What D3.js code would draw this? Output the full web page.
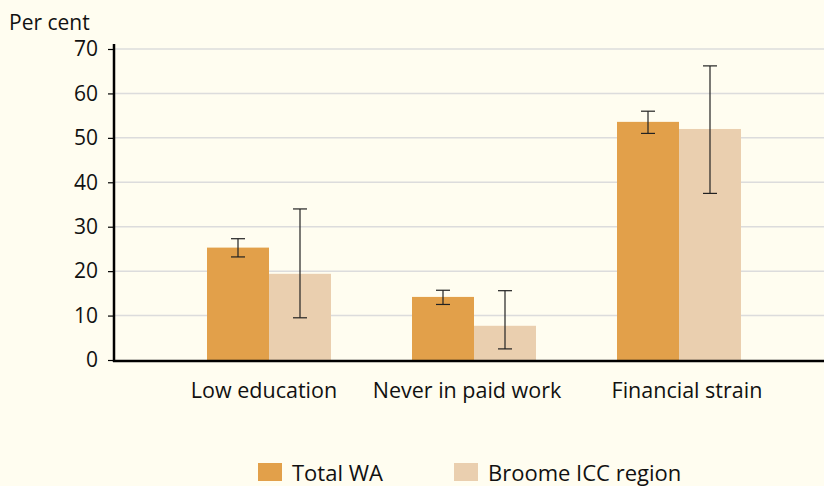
<!DOCTYPE html>
<html>
<head>
<meta charset="utf-8">
<script src="https://cdn.jsdelivr.net/npm/d3@7"></script>
<style>
  body { margin: 0; background: #fffdf0; }
  svg { display: block; font-family: "Open Sans", sans-serif; }
</style>
</head>
<body>
<div class="chart-div"></div>
<script>
const categories = ["Low education", "Never in paid work", "Financial strain"];
const seriesNames = ["Total WA", "Broome ICC region"];
const totalWA = [25.3, 14.2, 53.6];
const totalWALow = [23.2, 12.5, 51.0];
const totalWAHigh = [27.3, 15.7, 56.0];
const broome = [19.4, 7.7, 52.0];
const broomeLow = [9.5, 2.5, 37.5];
const broomeHigh = [34.0, 15.6, 66.2];
const yTicks = [0, 10, 20, 30, 40, 50, 60, 70];
const colors = ["#e2a04a", "#eacfaf"];

const w = 824;
const h = 486;

const svg = d3.select(".chart-div")
              .append("svg")
              .attr("width", w)
              .attr("height", h);

svg.append("rect").attr("width", w).attr("height", h).attr("fill", "#fffdf0");

const yScale = d3.scaleLinear().domain([0, 70]).range([360, 49]);
const xScale = d3.scaleBand().domain(categories).range([166.5, 781.5]).padding(0);
const inner = d3.scaleBand().domain([0, 1]).range([0, 124]);
const groupOffset = (xScale.bandwidth() - 124) / 2;
// the category labels in the original sit a little off the group centres
const labelNudge = [-5, -7, 8];

// gridlines
svg.append("g")
   .selectAll("line")
   .data(yTicks.filter(d => d > 0)).enter()
   .append("line")
   .attr("x1", 114).attr("x2", w)
   .attr("y1", d => yScale(d)).attr("y2", d => yScale(d))
   .attr("stroke", "#dcdcdc")
   .attr("stroke-width", 1.5);

// bars
const series = [
  {vals: totalWA, lo: totalWALow, hi: totalWAHigh},
  {vals: broome, lo: broomeLow, hi: broomeHigh}
];

series.forEach((s, si) => {
  svg.append("g")
     .selectAll("rect")
     .data(categories).enter()
     .append("rect")
     .attr("x", d => xScale(d) + groupOffset + inner(si))
     .attr("y", (d, i) => yScale(s.vals[i]))
     .attr("width", inner.bandwidth())
     .attr("height", (d, i) => yScale(0) - yScale(s.vals[i]))
     .attr("fill", colors[si]);
});

// error bars
series.forEach((s, si) => {
  const g = svg.append("g").attr("stroke", "#222").attr("stroke-width", 1.2);
  categories.forEach((c, i) => {
    const cx = xScale(c) + groupOffset + inner(si) + inner.bandwidth() / 2;
    g.append("line").attr("x1", cx).attr("x2", cx)
     .attr("y1", yScale(s.lo[i])).attr("y2", yScale(s.hi[i]));
    [s.lo[i], s.hi[i]].forEach(v => {
      g.append("line").attr("x1", cx - 7).attr("x2", cx + 7)
       .attr("y1", yScale(v)).attr("y2", yScale(v));
    });
  });
});

// y axis
const yAxis = d3.axisLeft(yScale).tickValues(yTicks).tickSize(6).tickPadding(10);
const yg = svg.append("g")
   .attr("transform", "translate(114, 0)")
   .call(yAxis);
yg.select(".domain").remove();
yg.selectAll(".tick line").attr("stroke", "#000").attr("stroke-width", 1.2);
yg.selectAll("text").attr("font-size", 21).attr("fill", "#111")
  .attr("font-family", "Open Sans, sans-serif");

svg.append("line")
   .attr("x1", 114).attr("x2", 114)
   .attr("y1", 44).attr("y2", 362)
   .attr("stroke", "#000").attr("stroke-width", 2.5);

// x axis
svg.append("line")
   .attr("x1", 113).attr("x2", w)
   .attr("y1", 361).attr("y2", 361)
   .attr("stroke", "#000").attr("stroke-width", 2.5);

svg.append("g")
   .selectAll("text")
   .data(categories).enter()
   .append("text")
   .attr("x", (d, i) => xScale(d) + xScale.bandwidth() / 2 + labelNudge[i])
   .attr("y", 398)
   .attr("text-anchor", "middle")
   .attr("font-size", 21.5)
   .attr("fill", "#111")
   .text(d => d);

svg.append("text")
   .attr("x", 9).attr("y", 30)
   .attr("font-size", 21)
   .attr("fill", "#111")
   .text("Per cent");

// legend
const legendX = [258, 454];
const legend = svg.append("g");
seriesNames.forEach((name, i) => {
  legend.append("rect")
        .attr("x", legendX[i]).attr("y", 463)
        .attr("width", 24).attr("height", 18)
        .attr("fill", colors[i]);
  legend.append("text")
        .attr("x", legendX[i] + 34).attr("y", 481)
        .attr("font-size", 22)
        .attr("fill", "#111")
        .text(name);
});
</script>
</body>
</html>
